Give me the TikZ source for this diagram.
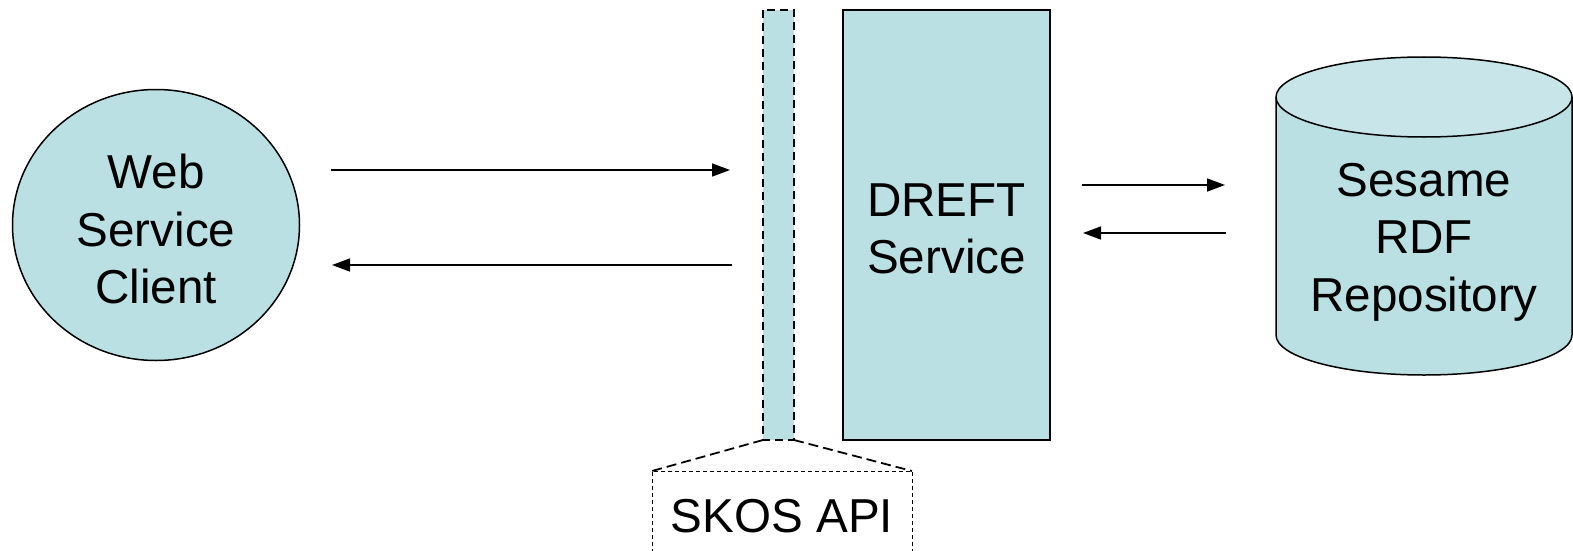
\documentclass[tikz,border=0pt]{standalone}
\usepackage{fontspec}
\setmainfont{Liberation Sans}
\usetikzlibrary{arrows.meta,shapes.geometric}
\definecolor{boxfill}{RGB}{187,224,227}
\definecolor{topfill}{RGB}{200,230,233}
\begin{document}
\begin{tikzpicture}[x=1pt,y=-1pt,
  lbl/.style={font=\fontsize{47.6}{57.5}\selectfont,align=center,inner sep=0pt},
  conn/.style={line width=1.5pt,-{Triangle[length=18pt,width=13pt]}},
  solidbox/.style={draw=black,line width=2pt,fill=boxfill},
  apibox/.style={draw=black,line width=1.8pt,fill=boxfill,dash pattern=on 8pt off 5pt}]
\useasboundingbox (0,0) rectangle (1573,551);
% Web service client
\node[ellipse,solidbox,line width=1.5pt,minimum width=287pt,minimum height=271pt,inner sep=0pt] (client) at (156,225) {};
\node[lbl] (clienttxt) at (156,229) {Web\\Service\\Client};
% SKOS API strip
\draw[apibox] (763,10) rectangle (794,440);
\coordinate (apiL) at (763,440);
\coordinate (apiR) at (794,440);
% DREFT service
\draw[solidbox] (843,10) rectangle (1050,440);
\node[lbl] (dreft) at (946.5,229) {DREFT\\Service};
% SKOS API label box
\coordinate (skL) at (652,471);
\coordinate (skR) at (912,471);
\draw[line width=1.8pt,dash pattern=on 10pt off 5pt] (apiL) -- (skL);
\draw[line width=1.8pt,dash pattern=on 10pt off 5pt] (apiR) -- (skR);
\draw[line width=1pt,dash pattern=on 4pt off 3pt] (652,560) -- (skL) -- (skR) -- (912,560);
\node[lbl] (skos) at (782,516) {SKOS API};
% Cylinder
\fill[boxfill] (1276,97) -- (1276,335) arc[start angle=180,end angle=0,x radius=148,y radius=40] -- (1572,97) -- cycle;
\fill[topfill] (1424,97) ellipse[x radius=148,y radius=40];
\draw[line width=1.5pt] (1276,97) -- (1276,335) arc[start angle=180,end angle=0,x radius=148,y radius=40] -- (1572,97);
\draw[line width=1.5pt] (1424,97) ellipse[x radius=148,y radius=40];
\node[lbl] (repo) at (1424,242) {Sesame\\RDF\\Repository};
% arrows
\coordinate (a1s) at (331,170); \coordinate (a1e) at (730,170);
\coordinate (a2s) at (732,265); \coordinate (a2e) at (332,265);
\coordinate (a3s) at (1082,185); \coordinate (a3e) at (1225,185);
\coordinate (a4s) at (1226,233); \coordinate (a4e) at (1083,233);
\draw[conn] (a1s) -- (a1e);
\draw[conn] (a2s) -- (a2e);
\draw[conn] (a3s) -- (a3e);
\draw[conn] (a4s) -- (a4e);
\end{tikzpicture}
\end{document}
